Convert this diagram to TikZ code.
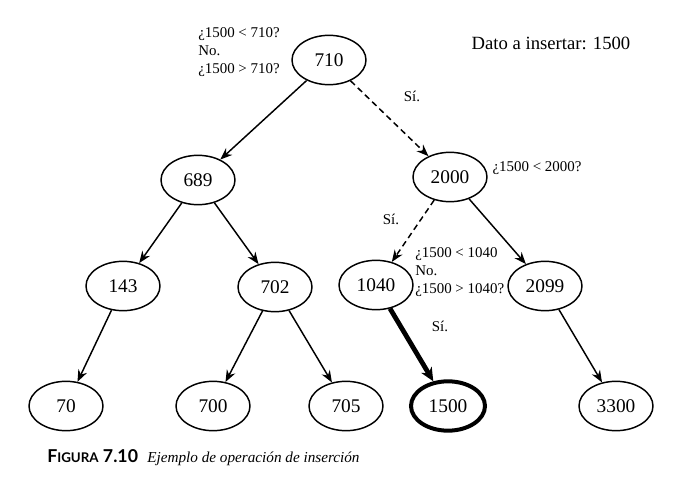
\documentclass[tikz,border=0pt]{standalone}
\usepackage{fontspec}
\setmainfont{Liberation Serif}
\newfontfamily\capfont{Lato}
\usetikzlibrary{arrows.meta,shapes.geometric}
\tikzset{
  key/.style={ellipse,draw,line width=1.1pt,minimum width=55.5pt,minimum height=37pt,inner sep=0pt,font=\fontsize{14.5}{17}\selectfont},
  newkey/.style={key,line width=3pt},
  edge/.style={line width=1.1pt,-{Stealth[length=9pt,width=7pt,inset=3pt]}},
  probe/.style={edge,dash pattern=on 4.5pt off 3pt},
  insedge/.style={line width=3.6pt,-{Stealth[length=10pt,width=9pt,inset=3pt]}},
  lbl/.style={font=\fontsize{11.2}{13.5}\selectfont,inner sep=0pt},
}
\begin{document}
\begin{tikzpicture}[x=0.75pt,y=-0.75pt]
\useasboundingbox (0,0) rectangle (687,496);
% nodes
\node[key] (n710) at (329,60) {710};
\node[key] (n689) at (198,180) {689};
\node[key] (n2000) at (450,177) {2000};
\node[key] (n143) at (123,286) {143};
\node[key] (n702) at (275,287) {702};
\node[key] (n1040) at (376,285) {1040};
\node[key] (n2099) at (545,286) {2099};
\node[key] (n70) at (66,406) {70};
\node[key] (n700) at (213,406) {700};
\node[key] (n705) at (346,406) {705};
\node[newkey] (n1500) at (448,406) {1500};
\node[key] (n3300) at (616,406) {3300};
% edges
\draw[edge] (n710) -- (n689);
\draw[probe] (n710) -- (n2000);
\draw[edge] (n689) -- (n143);
\draw[edge] (n689) -- (n702);
\draw[edge] (n143) -- (n70);
\draw[edge] (n702) -- (n700);
\draw[edge] (n702) -- (n705);
\draw[probe] (n2000) -- (n1040);
\draw[edge] (n2000) -- (n2099);
\draw[insedge] (n1040) -- (n1500);
\draw[edge] (n2099) -- (n3300);
% labels
\node[lbl,anchor=west,align=left] (q710) at (198,52) {¿1500 < 710?\\No.\\¿1500 > 710?};
\node[lbl] (si1) at (412,96) {Sí.};
\node[lbl] (q2000) at (537,168) {¿1500 < 2000?};
\node[lbl] (si2) at (391,219) {Sí.};
\node[lbl,anchor=west,align=left] (q1040) at (415,272) {¿1500 < 1040\\No.\\¿1500 > 1040?};
\node[lbl] (si3) at (440,326) {Sí.};
\node[inner sep=0pt,font=\fontsize{14}{16}\selectfont] (dato) at (551,43) {Dato a insertar: 1500};
\node[inner sep=0pt,anchor=west] (cap) at (47,458) {{\capfont\bfseries\fontsize{13.3}{15}\selectfont F\fontsize{10}{15}\selectfont IGURA\fontsize{13.3}{15}\selectfont\ 7.10}\hspace{7pt}{\fontsize{11.4}{13}\selectfont\itshape Ejemplo de operación de inserción}};
\end{tikzpicture}
\end{document}
